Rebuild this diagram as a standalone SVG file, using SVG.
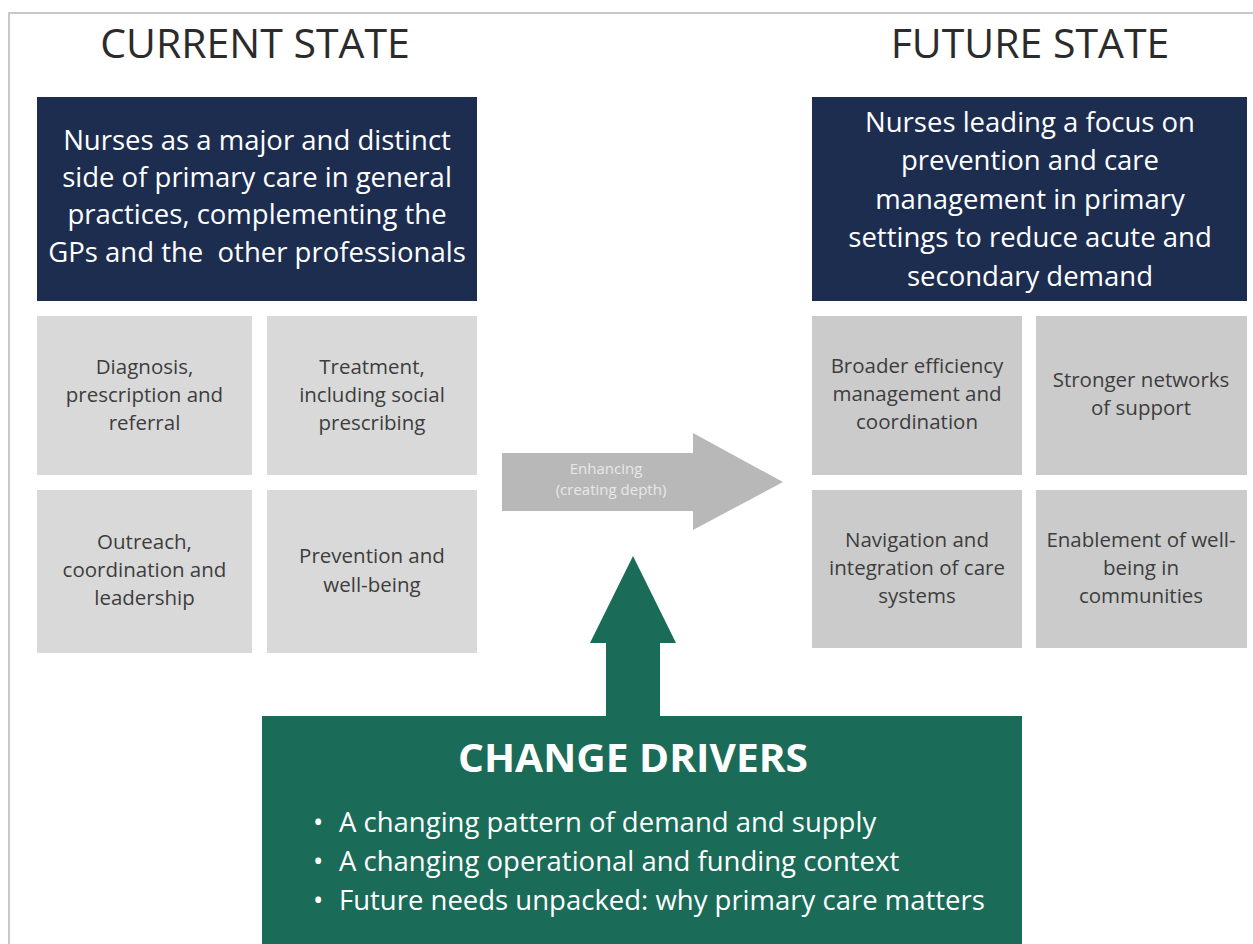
<svg xmlns="http://www.w3.org/2000/svg" width="1253" height="944" viewBox="0 0 1253 944">
<style>
text{font-family:"Open Sans","Noto Sans","Liberation Sans",sans-serif;text-anchor:middle}
.title{font-size:41px;fill:#2b2b2b}
.navy{fill:#1d2d4f}
.hd{font-size:27.5px;fill:#ffffff}
.gl{fill:#d9d9d9}
.gr{fill:#cbcbcb}
.bt{font-size:20.5px;fill:#3d3d3d}
.arrowtxt{font-size:15px;fill:#e8e8e8}
.green{fill:#1a6b57}
.cd{font-size:39px;font-weight:bold;fill:#ffffff}
.bl{font-size:27.5px;fill:#ffffff;text-anchor:start}
</style>
<rect x="0" y="0" width="1253" height="944" fill="#ffffff"/>
<path d="M9,944 V13 H1253" fill="none" stroke="#c8c8c8" stroke-width="2"/>

<g id="current-title"><text class="title" x="255" y="58">CURRENT STATE</text></g>
<g id="future-title"><text class="title" x="1030" y="58">FUTURE STATE</text></g>

<g id="current-head">
<rect class="navy" x="37" y="97" width="440" height="204"/>
<text class="hd" x="257" y="150">Nurses as a major and distinct</text>
<text class="hd" x="257" y="187">side of primary care in general</text>
<text class="hd" x="257" y="224">practices, complementing the</text>
<text class="hd" x="257" y="262" xml:space="preserve">GPs and the  other professionals</text>
</g>

<g id="future-head">
<rect class="navy" x="812" y="97" width="435" height="204"/>
<text class="hd" x="1030" y="132">Nurses leading a focus on</text>
<text class="hd" x="1030" y="170">prevention and care</text>
<text class="hd" x="1030" y="209">management in primary</text>
<text class="hd" x="1030" y="247">settings to reduce acute and</text>
<text class="hd" x="1030" y="286">secondary demand</text>
</g>

<g id="c1">
<rect class="gl" x="37" y="316" width="215" height="159"/>
<text class="bt" x="144.5" y="374">Diagnosis,</text>
<text class="bt" x="144.5" y="402">prescription and</text>
<text class="bt" x="144.5" y="430">referral</text>
</g>
<g id="c2">
<rect class="gl" x="267" y="316" width="210" height="159"/>
<text class="bt" x="372" y="374">Treatment,</text>
<text class="bt" x="372" y="402">including social</text>
<text class="bt" x="372" y="430">prescribing</text>
</g>
<g id="c3">
<rect class="gl" x="37" y="490" width="215" height="163"/>
<text class="bt" x="144.5" y="549">Outreach,</text>
<text class="bt" x="144.5" y="577">coordination and</text>
<text class="bt" x="144.5" y="605">leadership</text>
</g>
<g id="c4">
<rect class="gl" x="267" y="490" width="210" height="163"/>
<text class="bt" x="372" y="563">Prevention and</text>
<text class="bt" x="372" y="592">well-being</text>
</g>

<g id="f1">
<rect class="gr" x="812" y="316" width="210" height="159"/>
<text class="bt" x="917" y="373">Broader efficiency</text>
<text class="bt" x="917" y="401">management and</text>
<text class="bt" x="917" y="429">coordination</text>
</g>
<g id="f2">
<rect class="gr" x="1036" y="316" width="211" height="159"/>
<text class="bt" x="1141" y="387">Stronger networks</text>
<text class="bt" x="1141" y="415">of support</text>
</g>
<g id="f3">
<rect class="gr" x="812" y="490" width="210" height="158"/>
<text class="bt" x="917" y="547">Navigation and</text>
<text class="bt" x="917" y="575">integration of care</text>
<text class="bt" x="917" y="603">systems</text>
</g>
<g id="f4">
<rect class="gr" x="1036" y="490" width="211" height="158"/>
<text class="bt" x="1141" y="547">Enablement of well-</text>
<text class="bt" x="1141" y="575">being in</text>
<text class="bt" x="1141" y="603">communities</text>
</g>

<g id="connectors">
<polygon points="502,453 693,453 693,433 783,482 693,530 693,511 502,511" fill="#b8b8b8"/>
<text class="arrowtxt" x="606" y="474">Enhancing</text>
<text class="arrowtxt" x="611" y="495">(creating depth)</text>
<polygon class="green" points="606,718 606,643 590,643 633,556 676,643 660,643 660,718"/>
</g>

<g id="change-drivers">
<rect class="green" x="262" y="716" width="760" height="228"/>
<text class="cd" x="633" y="772" textLength="350" lengthAdjust="spacingAndGlyphs">CHANGE DRIVERS</text>
<text class="bl" x="313" y="832">•</text>
<text class="bl" x="339" y="832">A changing pattern of demand and supply</text>
<text class="bl" x="313" y="871">•</text>
<text class="bl" x="339" y="871">A changing operational and funding context</text>
<text class="bl" x="313" y="910">•</text>
<text class="bl" x="339" y="910">Future needs unpacked: why primary care matters</text>
</g>
</svg>
